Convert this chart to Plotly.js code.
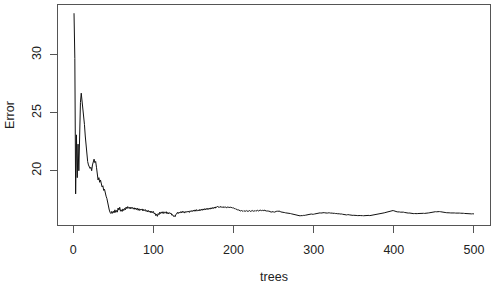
<!DOCTYPE html>
<html>
<head>
<meta charset="utf-8">
<script src="https://cdn.plot.ly/plotly-3.0.1.min.js"></script>
<style>html,body{margin:0;padding:0;background:#fff;}#chart{width:500px;height:285px;}</style>
</head>
<body>
<div id="chart"></div>
<script>
// OOB error per number of trees (1..500)
const errorValues = [
33.61, 29.7, 18.0, 23.1, 19.4, 22.3, 20.0, 23.6, 25.9, 26.7,
26.1, 25.3, 24.7, 24.0, 23.0, 22.0, 21.0, 20.8, 20.5, 20.4,
20.2, 20.3, 20.0, 20.5, 20.9, 21.0, 20.7, 20.8, 20.3, 19.3,
19.2, 19.4, 19.0, 19.2, 18.8, 18.6, 18.7, 18.3, 18.4, 18.0,
17.8, 17.6, 17.2, 16.9, 16.6, 16.4, 16.3, 16.48, 16.32, 16.5,
16.36, 16.62, 16.4, 16.56, 16.42, 16.78, 16.6, 16.84, 16.5, 16.62,
16.48, 16.7, 16.56, 16.74, 16.62, 16.86, 16.72, 16.9, 16.76, 16.84,
16.7, 16.86, 16.74, 16.82, 16.68, 16.8, 16.66, 16.78, 16.64, 16.76,
16.58, 16.72, 16.56, 16.68, 16.6, 16.7, 16.52, 16.66, 16.56, 16.64,
16.48, 16.58, 16.44, 16.56, 16.42, 16.52, 16.36, 16.5, 16.38, 16.48,
16.28, 16.34, 16.12, 16.24, 16.06, 16.3, 16.2, 16.42, 16.3, 16.44,
16.32, 16.46, 16.3, 16.42, 16.36, 16.46, 16.28, 16.4, 16.26, 16.38,
16.3, 16.34, 16.16, 16.2, 16.06, 16.12, 16.02, 16.22, 16.26, 16.4,
16.3, 16.42, 16.34, 16.46, 16.36, 16.5, 16.38, 16.48, 16.34, 16.46,
16.4, 16.5, 16.42, 16.52, 16.4, 16.54, 16.46, 16.56, 16.48, 16.6,
16.5, 16.62, 16.5, 16.64, 16.54, 16.6, 16.52, 16.66, 16.56, 16.68,
16.58, 16.7, 16.6, 16.72, 16.62, 16.74, 16.64, 16.76, 16.66, 16.78,
16.68, 16.8, 16.7, 16.82, 16.74, 16.86, 16.76, 16.88, 16.84, 16.92,
16.84, 16.9, 16.82, 16.92, 16.84, 16.88, 16.8, 16.9, 16.82, 16.86,
16.8, 16.88, 16.82, 16.86, 16.78, 16.88, 16.8, 16.84, 16.76, 16.8,
16.72, 16.74, 16.66, 16.68, 16.6, 16.62, 16.56, 16.58, 16.52, 16.56,
16.5, 16.55, 16.48, 16.54, 16.5, 16.56, 16.48, 16.54, 16.5, 16.56,
16.48, 16.54, 16.5, 16.56, 16.5, 16.54, 16.5, 16.57, 16.52, 16.58,
16.52, 16.58, 16.54, 16.6, 16.55, 16.58, 16.54, 16.6, 16.56, 16.58,
16.52, 16.54, 16.48, 16.52, 16.46, 16.48, 16.42, 16.46, 16.42, 16.44,
16.42, 16.46, 16.46, 16.5, 16.5, 16.52, 16.48, 16.5, 16.44, 16.44,
16.4, 16.42, 16.38, 16.38, 16.36, 16.36, 16.34, 16.34, 16.3, 16.32,
16.3, 16.28, 16.26, 16.24, 16.22, 16.2, 16.18, 16.16, 16.15, 16.14,
16.12, 16.12, 16.1, 16.12, 16.1, 16.12, 16.14, 16.12, 16.14, 16.16,
16.18, 16.2, 16.22, 16.24, 16.22, 16.24, 16.26, 16.24, 16.22, 16.24,
16.26, 16.28, 16.3, 16.28, 16.3, 16.32, 16.34, 16.36, 16.34, 16.36,
16.34, 16.36, 16.38, 16.36, 16.34, 16.36, 16.34, 16.36, 16.38, 16.36,
16.34, 16.36, 16.34, 16.32, 16.34, 16.32, 16.3, 16.32, 16.3, 16.28,
16.3, 16.28, 16.26, 16.28, 16.26, 16.24, 16.22, 16.2, 16.18, 16.16,
16.18, 16.2, 16.22, 16.2, 16.18, 16.16, 16.18, 16.16, 16.14, 16.15,
16.13, 16.14, 16.12, 16.13, 16.12, 16.14, 16.12, 16.13, 16.12, 16.14,
16.12, 16.11, 16.12, 16.14, 16.12, 16.13, 16.11, 16.12, 16.14, 16.12,
16.13, 16.15, 16.17, 16.19, 16.21, 16.2, 16.22, 16.24, 16.23, 16.25,
16.24, 16.26, 16.25, 16.27, 16.3, 16.32, 16.34, 16.36, 16.38, 16.4,
16.42, 16.44, 16.46, 16.48, 16.5, 16.52, 16.55, 16.58, 16.56, 16.54,
16.5, 16.48, 16.46, 16.45, 16.44, 16.46, 16.44, 16.42, 16.43, 16.41,
16.4, 16.42, 16.4, 16.38, 16.39, 16.37, 16.36, 16.34, 16.35, 16.33,
16.32, 16.3, 16.31, 16.3, 16.29, 16.3, 16.28, 16.3, 16.29, 16.3,
16.31, 16.3, 16.32, 16.3, 16.31, 16.3, 16.32, 16.31, 16.33, 16.32,
16.34, 16.33, 16.35, 16.36, 16.38, 16.4, 16.42, 16.44, 16.43, 16.45,
16.44, 16.46, 16.45, 16.47, 16.46, 16.45, 16.47, 16.46, 16.44, 16.42,
16.4, 16.41, 16.39, 16.4, 16.38, 16.37, 16.38, 16.36, 16.37, 16.36,
16.35, 16.36, 16.34, 16.35, 16.36, 16.35, 16.34, 16.35, 16.33, 16.34,
16.35, 16.34, 16.33, 16.34, 16.32, 16.33, 16.32, 16.31, 16.3, 16.31,
16.3, 16.29, 16.3, 16.28, 16.29, 16.28, 16.27, 16.28, 16.27, 16.27
];
const trees = errorValues.map((_, i) => i + 1);
const xTicks = [0, 100, 200, 300, 400, 500];
const yTicks = [20, 25, 30];
const xLabel = "trees";
const yLabel = "Error";

const axisColor = "#555";
const textColor = "#222";

const trace = {
  x: trees,
  y: errorValues,
  type: "scatter",
  mode: "lines",
  line: { color: "#111", width: 1 },
  hoverinfo: "skip"
};

const layout = {
  width: 500,
  height: 285,
  margin: { l: 58, r: 10, t: 5, b: 60 },
  paper_bgcolor: "#fff",
  plot_bgcolor: "#fff",
  showlegend: false,
  font: { family: "Liberation Sans, Arial, sans-serif", size: 12.5, color: textColor },
  xaxis: {
    range: [-19, 520],
    tickmode: "array",
    tickvals: xTicks,
    ticktext: xTicks.map(String),
    ticks: "outside",
    ticklen: 7,
    tickwidth: 1,
    tickcolor: axisColor,
    ticklabelstandoff: 6,
    showline: true,
    linecolor: axisColor,
    linewidth: 1,
    mirror: true,
    showgrid: false,
    zeroline: false,
    tickfont: { size: 12.5, color: textColor },
    title: { text: xLabel, font: { size: 12.5, color: textColor }, standoff: 16 }
  },
  yaxis: {
    range: [15.31, 34.32],
    tickmode: "array",
    tickvals: yTicks,
    ticktext: yTicks.map(String),
    tickangle: -90,
    ticks: "outside",
    ticklen: 7,
    tickwidth: 1,
    tickcolor: axisColor,
    ticklabelstandoff: 4,
    showline: true,
    linecolor: axisColor,
    linewidth: 1,
    mirror: true,
    showgrid: false,
    zeroline: false,
    tickfont: { size: 12.5, color: textColor },
    title: { text: yLabel, font: { size: 12.5, color: textColor }, standoff: 12 }
  }
};

Plotly.newPlot("chart", [trace], layout, { displayModeBar: false, staticPlot: true });
</script>
</body>
</html>
